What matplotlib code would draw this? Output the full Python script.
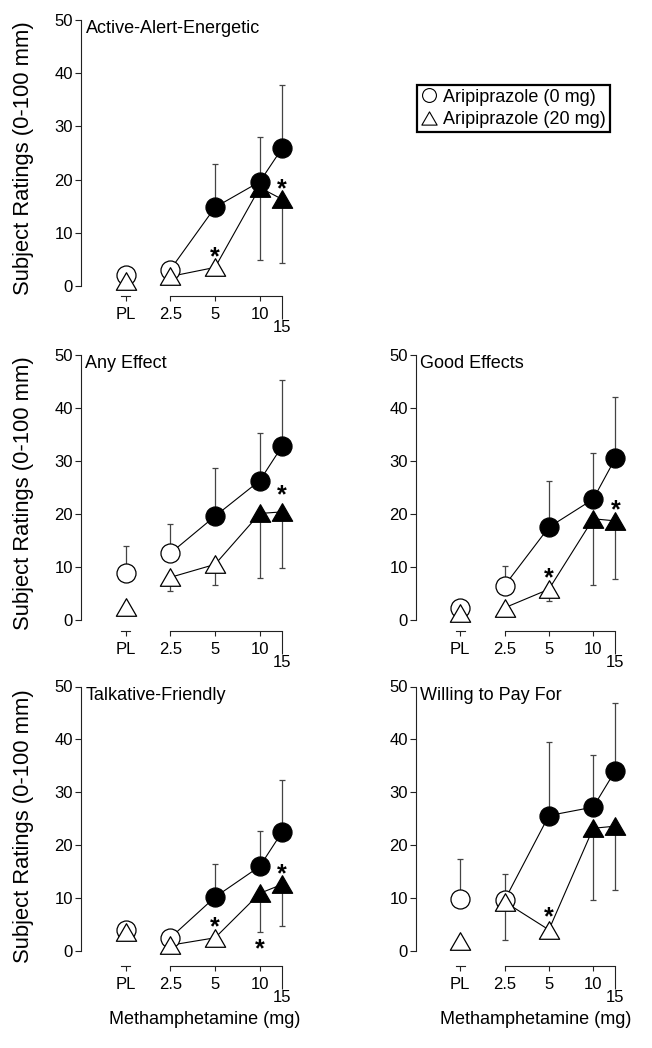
import matplotlib
matplotlib.use('Agg')
import matplotlib.pyplot as plt
import matplotlib.transforms as mtransforms
from matplotlib.lines import Line2D
from matplotlib.path import Path

plt.rcParams['font.family'] = ['Liberation Sans', 'DejaVu Sans']

# ---------------- data ----------------
doses = ['PL', '2.5', '5', '10', '15']
dose_pos = [0, 1, 2, 3, 3.5]
circle_filled = [False, False, True, True, True]
triangle_filled = [False, False, False, True, True]

titles = ['Active-Alert-Energetic', 'Any Effect', 'Good Effects',
          'Talkative-Friendly', 'Willing to Pay For']

# Aripiprazole 0 mg (circles), means and upward SEM
aae_0 = [2.1, 3.1, 14.8, 19.6, 25.9]
aae_0_err = [0.5, 0.5, 8.1, 8.5, 11.9]
any_0 = [8.8, 12.6, 19.6, 26.3, 32.8]
any_0_err = [5.2, 5.45, 9.1, 8.9, 12.5]
good_0 = [2.2, 6.5, 17.5, 22.8, 30.5]
good_0_err = [0.5, 3.75, 8.8, 8.8, 11.5]
talk_0 = [3.9, 2.5, 10.2, 16.0, 22.5]
talk_0_err = [0.5, 0.5, 6.3, 6.7, 9.8]
pay_0 = [9.9, 9.6, 25.6, 27.2, 34.1]
pay_0_err = [7.4, 4.9, 13.9, 9.8, 12.8]

# Aripiprazole 20 mg (triangles), means and downward SEM
aae_20 = [1.0, 1.8, 3.5, 18.5, 16.3]
aae_20_err = [0.5, 0.5, 0.5, 13.7, 12.0]
any_20 = [2.5, 8.05, 10.5, 20.1, 20.4]
any_20_err = [1.6, 2.55, 3.9, 12.1, 10.65]
good_20 = [1.3, 2.3, 5.8, 19.1, 18.7]
good_20_err = [0.5, 0.5, 2.2, 12.5, 11.0]
talk_20 = [3.5, 1.1, 2.5, 10.9, 12.6]
talk_20_err = [0.8, 0.5, 0.5, 7.3, 7.9]
pay_20 = [1.95, 9.3, 4.0, 23.2, 23.6]
pay_20_err = [0.5, 7.2, 0.5, 13.6, 12.1]

# significance asterisks: (dose label, rating)
aae_stars = [('5', 6.8), ('15', 19.6)]
any_stars = [('15', 24.8)]
good_stars = [('5', 9.2), ('15', 22.0)]
talk_stars = [('5', 5.9), ('10', 1.7), ('15', 15.9)]
pay_stars = [('5', 7.7)]

legend_labels = ['Aripiprazole (0 mg)', 'Aripiprazole (20 mg)']
yticks = [0, 10, 20, 30, 40, 50]

panels = [
    (titles[0], aae_0, aae_0_err, aae_20, aae_20_err, aae_stars),
    (titles[1], any_0, any_0_err, any_20, any_20_err, any_stars),
    (titles[2], good_0, good_0_err, good_20, good_20_err, good_stars),
    (titles[3], talk_0, talk_0_err, talk_20, talk_20_err, talk_stars),
    (titles[4], pay_0, pay_0_err, pay_20, pay_20_err, pay_stars),
]

# ---------------- layout ----------------
W, H = 652, 1048
fig = plt.figure(figsize=(W / 100, H / 100), dpi=100)

cols = {'L': (81, 223.5), 'R': (416, 221.5)}
rows = [(20, 286, 296), (355, 620, 631), (686.5, 951, 966)]
slots = [('L', 0), ('L', 1), ('R', 1), ('L', 2), ('R', 2)]

tri = Path([(0, 0.866), (-1, -0.866), (1, -0.866), (0, 0.866)],
           [Path.MOVETO, Path.LINETO, Path.LINETO, Path.CLOSEPOLY])

FS_TICK = 12
FS_TEXT = 13
EC = '#222222'
ERRC = '#444444'

for (title, c_mean, c_err, t_mean, t_err, stars), (col, r) in zip(panels, slots):
    left_px, width_px = cols[col]
    y50, y0, yax = rows[r]
    rect = [left_px / W, 1 - yax / H, width_px / W, (yax - y50) / H]
    ax = fig.add_axes(rect)
    ybot = -(yax - y0) / (y0 - y50) * 50
    ax.set_xlim(-1, 4)
    ax.set_ylim(ybot, 50)

    for s in ['top', 'right']:
        ax.spines[s].set_visible(False)
    ax.spines['left'].set_bounds(0, 50)
    ax.spines['bottom'].set_bounds(1, 3.5)
    for s in ['left', 'bottom']:
        ax.spines[s].set_linewidth(0.8)
        ax.spines[s].set_color(EC)
    # small axis stub under placebo
    ax.plot([-0.1, 0.1], [0, 0], color=EC, lw=0.8,
            transform=mtransforms.blended_transform_factory(ax.transData, ax.transAxes),
            clip_on=False)

    ax.set_yticks(yticks)
    ax.set_yticklabels([str(v) for v in yticks], fontsize=FS_TICK)
    ax.tick_params(axis='y', direction='out', length=4.5, width=0.8, pad=1.2, color=EC)
    ax.set_xticks(dose_pos[:4])
    ax.set_xticklabels(doses[:4], fontsize=FS_TICK)
    ax.set_xticks([dose_pos[4]], minor=True)
    ax.set_xticklabels([doses[4]], minor=True, fontsize=FS_TICK)
    ax.tick_params(axis='x', which='major', direction='out', length=3.5, width=0.8, pad=4.6, color=EC)
    ax.tick_params(axis='x', which='minor', direction='out', length=16.5, width=0.8, pad=1.0, color=EC)

    # connecting lines (doses only, not placebo)
    ax.plot(dose_pos[1:], c_mean[1:], color='black', lw=0.8, zorder=2)
    ax.plot(dose_pos[1:], t_mean[1:], color='black', lw=0.8, zorder=2)

    # error bars: circles upward, triangles downward
    ax.errorbar(dose_pos, c_mean, yerr=[[0] * 5, c_err], fmt='none', ecolor=ERRC,
                elinewidth=0.9, capsize=2.2, capthick=0.9, zorder=1, clip_on=False)
    ax.errorbar(dose_pos, t_mean, yerr=[t_err, [0] * 5], fmt='none', ecolor=ERRC,
                elinewidth=0.9, capsize=2.2, capthick=0.9, zorder=1, clip_on=False)

    for x, y, f in zip(dose_pos, c_mean, circle_filled):
        ax.plot([x], [y], marker='o', ms=13.7, mfc='black' if f else 'white',
                mec='black', mew=0.9, ls='none', zorder=3, clip_on=False)
    for x, y, f in zip(dose_pos, t_mean, triangle_filled):
        ax.plot([x], [y], marker=tri, ms=14.6, mfc='black' if f else 'white',
                mec='black', mew=0.9, ls='none', zorder=4, clip_on=False)

    star_fs = 18
    star_off = mtransforms.ScaledTranslation(0, -0.57 * star_fs / 72, fig.dpi_scale_trans)
    for d, y in stars:
        ax.text(dose_pos[doses.index(d)], y, '*', fontsize=star_fs, fontweight='bold',
                ha='center', va='baseline', transform=ax.transData + star_off, zorder=5)

    title_off = mtransforms.ScaledTranslation(4.5 / 100, 0, fig.dpi_scale_trans)
    ax.text(-1, 50, title, fontsize=FS_TEXT, ha='left', va='top',
            transform=ax.transData + title_off)

    if col == 'L':
        ax.set_ylabel('Subject Ratings (0-100 mm)', fontsize=15.8, va='center')
        ax.yaxis.set_label_coords((24 - left_px) / width_px, 0.5)
    if r == 2:
        ax.set_xlabel('Methamphetamine (mg)', fontsize=FS_TEXT, va='center')
        cx = 205 if col == 'L' else 536
        ax.xaxis.set_label_coords((cx - left_px) / width_px, -(1020 - yax) / (yax - y50))

handles = [Line2D([], [], marker='o', ms=10, mfc='white', mec='black', mew=0.8, ls='none'),
           Line2D([], [], marker=tri, ms=11, mfc='white', mec='black', mew=0.8, ls='none')]
leg = fig.legend(handles, legend_labels, loc='upper left',
                 bbox_to_anchor=(417 / W, 1 - 85 / H), fontsize=FS_TEXT,
                 frameon=True, fancybox=False, framealpha=1, edgecolor='black',
                 borderpad=0.2, handlelength=0.9, handletextpad=0.35,
                 labelspacing=0.3, borderaxespad=0)
leg.get_frame().set_linewidth(1.6)

fig.savefig('out.png', dpi=100)
